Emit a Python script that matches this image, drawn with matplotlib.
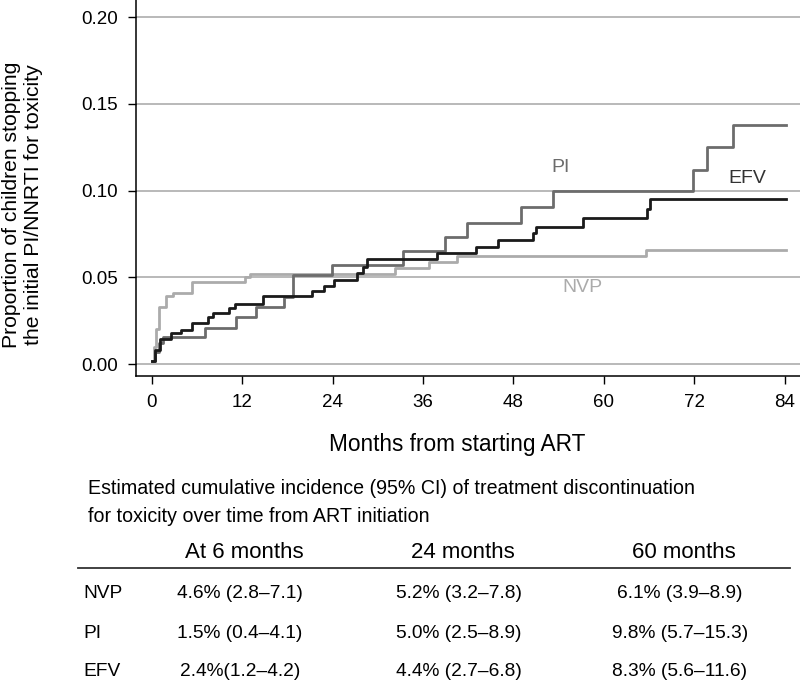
import numpy as np
import matplotlib
matplotlib.use('Agg')
import matplotlib.pyplot as plt

plt.rcParams['font.family'] = ['Liberation Sans', 'DejaVu Sans']

# step curves (months, cumulative proportion)
nvp_months = [0, 0.3, 0.6, 1.0, 1.9, 2.8, 5.3, 12.35, 13.0, 32.3, 36.8, 40.5, 65.6, 84.2]
nvp_values = [0.002, 0.010, 0.020, 0.033, 0.039, 0.041, 0.047, 0.050, 0.052, 0.0555, 0.059, 0.062, 0.0657, 0.0657]

pi_months = [0, 0.4, 0.9, 1.5, 7.04, 11.24, 13.8, 17.5, 18.77, 23.86, 33.4, 38.9, 41.9, 49.0, 53.2, 71.8, 73.7, 77.1, 84.2]
pi_values = [0.002, 0.007, 0.012, 0.0155, 0.0206, 0.0273, 0.033, 0.0388, 0.0513, 0.0571, 0.0653, 0.073, 0.0814, 0.0907, 0.0999, 0.1118, 0.1252, 0.1378, 0.1378]

efv_months = [0, 0.4, 1.06, 2.6, 3.94, 5.27, 7.48, 8.14, 10.27, 11.02, 14.8, 21.3, 22.9, 24.2, 27.2, 28.1, 28.6, 37.8, 43.0, 46.0, 50.6, 51.0, 57.2, 65.7, 66.2, 84.2]
efv_values = [0.002, 0.008, 0.0142, 0.0177, 0.0196, 0.0235, 0.0269, 0.0296, 0.0321, 0.0346, 0.0394, 0.0421, 0.045, 0.0484, 0.0523, 0.0561, 0.0603, 0.0638, 0.0672, 0.0715, 0.0753, 0.0791, 0.084, 0.0892, 0.0949, 0.0949]

x_ticks = [0, 12, 24, 36, 48, 60, 72, 84]
y_ticks = [0.00, 0.05, 0.10, 0.15, 0.20]

# table underneath
table_title = ['Estimated cumulative incidence (95% CI) of treatment discontinuation',
               'for toxicity over time from ART initiation']
table_cols = ['At 6 months', '24 months', '60 months']
table_rows = ['NVP', 'PI', 'EFV']
table_cells = [['4.6% (2.8\u20137.1)', '5.2% (3.2\u20137.8)', '6.1% (3.9\u20138.9)'],
               ['1.5% (0.4\u20134.1)', '5.0% (2.5\u20138.9)', '9.8% (5.7\u201315.3)'],
               ['2.4%(1.2\u20134.2)', '4.4% (2.7\u20136.8)', '8.3% (5.6\u201311.6)']]

W, H = 800, 683

def px(x, y):
    return x / W, 1 - y / H

fig = plt.figure(figsize=(8, 6.83), dpi=100)
ax = fig.add_axes([136 / W, 1 - 376 / H, (W - 136) / W, 376 / H])

ax.plot(nvp_months, nvp_values, drawstyle='steps-post', color='#ababab', lw=2, zorder=3)
ax.plot(pi_months, pi_values, drawstyle='steps-post', color='#6c6c6c', lw=2, zorder=4)
ax.plot(efv_months, efv_values, drawstyle='steps-post', color='#1a1a1a', lw=2, zorder=5)

ax.text(54.2, 0.1135, 'PI', color='#6c6c6c', fontsize=14, ha='center', va='center')
ax.text(79.0, 0.107, 'EFV', color='#333333', fontsize=14, ha='center', va='center')
ax.text(57.2, 0.044, 'NVP', color='#ababab', fontsize=14, ha='center', va='center')

ax.set_xlim(-2.1, 86.05)
ax.set_ylim(-0.0069, 0.2098)
ax.set_xticks(x_ticks)
ax.set_yticks(y_ticks)
ax.set_yticklabels([f'{v:.2f}' for v in y_ticks])
ax.grid(axis='y', color='#a5a5a5', lw=1.1)
ax.set_axisbelow(True)
ax.tick_params(direction='out', length=6, width=1, labelsize=13.5, pad=7)
for s in ['top', 'right']:
    ax.spines[s].set_visible(False)
for s in ['left', 'bottom']:
    ax.spines[s].set_linewidth(1.1)

ax.set_xlabel('Months from starting ART', fontsize=16.3)
ax.xaxis.set_label_coords((457 - 136) / 664, (376 - 445) / 376)
ax.xaxis.label.set_va('center')
ax.set_ylabel('Proportion of children stopping\nthe initial PI/NNRTI for toxicity', fontsize=15.2)
ax.yaxis.set_label_coords((23 - 136) / 664, (376 - 205) / 376)
ax.yaxis.label.set(va='center', ha='center', rotation_mode='default')

# table
for i, line in enumerate(table_title):
    fig.text(*px(88, 488 + 29 * i), line, fontsize=14.1, ha='left', va='center')
col_x = [244, 463, 684]
for cx, name in zip(col_x, table_cols):
    fig.text(*px(cx, 552), name, fontsize=16, ha='center', va='center')
fig.add_artist(plt.Line2D([78 / W, 790 / W], [1 - 568 / H, 1 - 568 / H], color='#333333', lw=1.3))
row_y = [594, 633, 672]
for ry, name, cells in zip(row_y, table_rows, table_cells):
    fig.text(*px(83, ry), name, fontsize=13.8, ha='left', va='center')
    for cx, cell in zip(col_x, cells):
        fig.text(*px(cx - 4, ry), cell, fontsize=13.8, ha='center', va='center')

fig.savefig('out.png', dpi=100)
